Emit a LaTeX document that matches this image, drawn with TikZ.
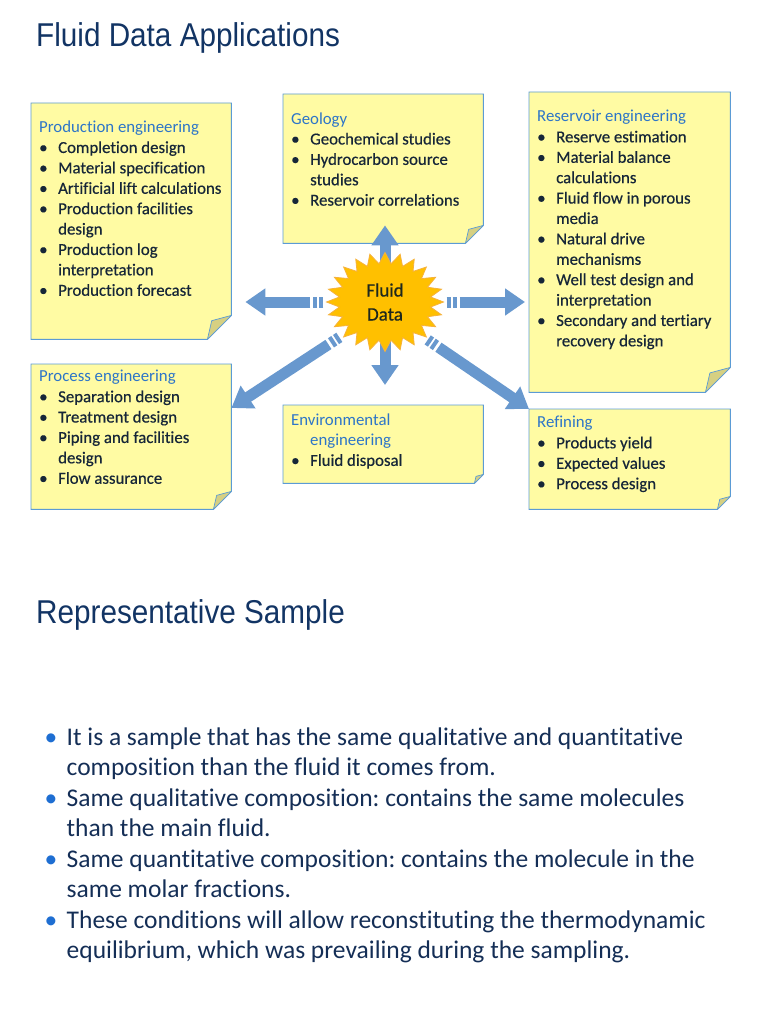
\documentclass[tikz,border=0pt]{standalone}
\usepackage{fontspec}
\setmainfont[Ligatures=NoCommon]{Carlito}
\newfontfamily\notefont[Ligatures=NoCommon, BoldFont=Carlito, BoldFeatures={FakeBold=0.45}]{Carlito}
\newfontfamily\headfont[FakeStretch=0.9]{Liberation Sans}
\usetikzlibrary{arrows.meta,shapes.geometric}
\frenchspacing

\definecolor{titleblue}{RGB}{18,52,100}
\definecolor{notehead}{RGB}{45,117,200}
\definecolor{noteink}{RGB}{22,38,56}
\definecolor{notefill}{RGB}{255,251,163}
\definecolor{noteline}{RGB}{91,155,213}
\definecolor{notefoldc}{RGB}{214,208,130}
\definecolor{flowblue}{RGB}{104,152,206}
\definecolor{burstfill}{RGB}{255,192,0}
\definecolor{burstline}{RGB}{246,178,60}
\definecolor{hubink}{RGB}{30,40,30}
\definecolor{bodyink}{RGB}{20,46,86}
\definecolor{dotblue}{RGB}{30,110,210}

\pgfdeclarelayer{bg}
\pgfsetlayers{bg,main}

% lines inside the notes
\newcommand\nhead[1]{\par\noindent\mbox{\mdseries\color{notehead}#1}}
\newcommand\nitem[1]{\par\noindent\mbox{\makebox[19pt][l]{\textbullet}#1}}
\newcommand\nmore[1]{\par\noindent\mbox{\hspace*{19pt}#1}}
\newcommand\notebody[4]{\parbox[t][#2][t]{#1}{\vspace*{#3}#4}}
% lines of the slide text
\newcommand\sitem[1]{\par\noindent\mbox{\makebox[22pt][l]{\color{dotblue}\textbullet}#1}}
\newcommand\smore[1]{\par\noindent\mbox{\hspace*{22pt}#1}}

% sheet with a folded corner behind a note node
\newcommand\notefold[2]{%
  \path[notepaper] (#1.north west) -- (#1.north east) -- ([yshift=#2]#1.south east)
    -- ([xshift=-#2]#1.south east) -- (#1.south west) -- cycle;
  \path[notecorner] ([xshift=-#2]#1.south east)
    -- ([xshift=-0.82*#2,yshift=0.78*#2]#1.south east)
    -- ([yshift=#2]#1.south east) -- cycle;
}

\begin{document}
\begin{tikzpicture}[x=1pt, y=-1pt,
    slidetitle/.style={anchor=base west, inner sep=0pt, text=titleblue,
      font=\headfont\fontsize{33}{40}\selectfont},
    notebox/.style={anchor=north west, inner xsep=8pt, inner ysep=0pt, text=noteink,
      font=\notefont\bfseries\fontsize{16.8}{20.4}\selectfont},
    notepaper/.style={fill=notefill, draw=noteline, line width=0.9pt},
    notecorner/.style={fill=notefoldc, draw=noteline, line width=0.7pt, line join=round},
    flow/.style={draw=flowblue, line width=11pt, -{Triangle[width=26pt,length=20pt]},
      shorten <=3pt, dash pattern=on 4pt off 2pt on 4pt off 3pt on 500pt off 1pt},
    flowplain/.style={draw=flowblue, line width=11pt, -{Triangle[width=26pt,length=20pt]}},
    burst/.style={fill=burstfill, draw=burstline, line width=0.8pt, line join=miter},
    hubtext/.style={ellipse, minimum width=117pt, minimum height=99pt, inner sep=0pt,
      align=center, text=hubink, font=\notefont\bfseries\fontsize{19}{24}\selectfont},
    slidetext/.style={anchor=base west, inner sep=0pt, text=bodyink,
      font=\fontsize{25.5}{30.5}\selectfont}
  ]
  \useasboundingbox (0,0) rectangle (768,1024);

  \node[slidetitle] (title1) at (36,47) {Fluid Data Applications};

  % notes
  \node[notebox] (prod) at (31,103) {\notebody{184pt}{236pt}{17.7pt}{%
    \nhead{Production engineering}
    \nitem{Completion design}
    \nitem{Material specification}
    \nitem{Artificial lift calculations}
    \nitem{Production facilities}
    \nmore{design}
    \nitem{Production log}
    \nmore{interpretation}
    \nitem{Production forecast}}};
  \node[notebox] (geo) at (283,94) {\notebody{184pt}{149pt}{18.2pt}{%
    \nhead{Geology}
    \nitem{Geochemical studies}
    \nitem{Hydrocarbon source}
    \nmore{studies}
    \nitem{Reservoir correlations}}};
  \node[notebox] (res) at (529,92) {\notebody{185pt}{300pt}{18.2pt}{%
    \nhead{Reservoir engineering}
    \nitem{Reserve estimation}
    \nitem{Material balance}
    \nmore{calculations}
    \nitem{Fluid flow in porous}
    \nmore{media}
    \nitem{Natural drive}
    \nmore{mechanisms}
    \nitem{Well test design and}
    \nmore{interpretation}
    \nitem{Secondary and tertiary}
    \nmore{recovery design}}};
  \node[notebox] (prc) at (31,364) {\notebody{184pt}{145pt}{6pt}{%
    \nhead{Process engineering}
    \nitem{Separation design}
    \nitem{Treatment design}
    \nitem{Piping and facilities}
    \nmore{design}
    \nitem{Flow assurance}}};
  \node[notebox] (env) at (283,405) {\notebody{184pt}{78pt}{8.2pt}{%
    \nhead{Environmental}
    \nmore{\mdseries\color{notehead}engineering}
    \nitem{Fluid disposal}}};
  \node[notebox] (ref) at (529,409) {\notebody{185pt}{100pt}{7.2pt}{%
    \nhead{Refining}
    \nitem{Products yield}
    \nitem{Expected values}
    \nitem{Process design}}};

  % centre burst
  \coordinate (hub) at (385,302);
  \draw[burst] ([shift={(hub)}]0:58.5 and 49.5)
    \foreach \k in {1,...,24} {
      -- ([shift={(hub)}]\k*15-7.5:46 and 38.5) -- ([shift={(hub)}]\k*15:58.5 and 49.5)
    } -- cycle;
  \node[hubtext] (fd) at (hub) {Fluid\\Data};

  \begin{pgfonlayer}{bg}
    \notefold{prod}{24pt}
    \notefold{geo}{18pt}
    \notefold{res}{25pt}
    \notefold{prc}{18pt}
    \notefold{env}{9pt}
    \notefold{ref}{13pt}
    % arrows out of the burst
    \draw[flow, shorten >=14pt] (fd) -- (fd -| prod.east);
    \draw[flow, shorten >=4pt] (fd) -- (fd -| res.west);
    \draw[flowplain, shorten <=-12pt, shorten >=-18pt] (fd) -- (fd |- geo.south);
    \draw[flowplain, shorten <=-12pt, shorten >=20pt] (fd) -- (fd |- env.north);
    \draw[flow] (fd.218) -- (prc.16);
    \draw[flow] (fd.318) -- (ref.north west);
  \end{pgfonlayer}

  \node[slidetitle] (title2) at (36,623.3) {Representative Sample};

  \node[slidetext] (rep) at (44.5,745) {\parbox[t]{710pt}{%
    \sitem{It is a sample that has the same qualitative and quantitative}
    \smore{composition than the fluid it comes from.}
    \sitem{Same qualitative composition: contains the same molecules}
    \smore{than the main fluid.}
    \sitem{Same quantitative composition: contains the molecule in the}
    \smore{same molar fractions.}
    \sitem{These conditions will allow reconstituting the thermodynamic}
    \smore{equilibrium, which was prevailing during the sampling.}}};
\end{tikzpicture}
\end{document}
